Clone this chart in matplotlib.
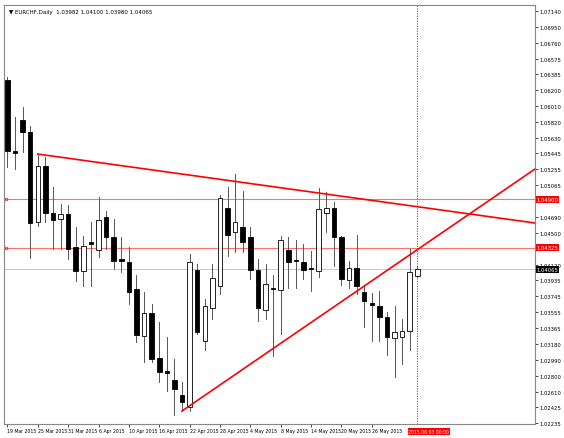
import matplotlib
matplotlib.use("Agg")
import matplotlib.pyplot as plt
from matplotlib.patches import Rectangle

opens = [1.06319,1.05474,1.05843,1.05700,1.04629,1.05296,1.04736,1.04665,1.04725,1.04332,
         1.04047,1.04391,1.04296,1.04689,1.04451,1.04189,1.04153,1.03832,1.03273,1.03547,
         1.03011,1.02856,1.02749,1.02571,1.02428,1.04058,1.03213,1.03606,1.03868,1.04796,
         1.04510,1.04570,1.04451,1.04058,1.03582,1.03844,1.03820,1.04296,1.04177,1.04153,
         1.04082,1.04047,1.04736,1.04796,1.04451,1.03939,1.04082,1.03796,1.03666,1.03630,
         1.03499,1.03249,1.03261,1.03335,1.03982]
highs = [1.06355,1.05879,1.05998,1.05772,1.05438,1.05403,1.05046,1.04844,1.04832,1.04570,
         1.04463,1.04629,1.04927,1.04760,1.04665,1.04451,1.04332,1.03999,1.03796,1.03654,
         1.03439,1.03261,1.02999,1.02725,1.04248,1.04130,1.03713,1.04130,1.04951,1.05046,
         1.05201,1.04998,1.04570,1.04189,1.04130,1.03999,1.04463,1.04451,1.04415,1.04368,
         1.04284,1.05034,1.04986,1.04867,1.04463,1.04165,1.04475,1.03868,1.03784,1.03808,
         1.03558,1.03630,1.03475,1.04308,1.04100]
lows = [1.05284,1.05260,1.05462,1.04201,1.04582,1.04629,1.04308,1.04308,1.04189,1.03927,
        1.03868,1.03868,1.04213,1.04308,1.04070,1.04035,1.03654,1.03201,1.02963,1.02963,
        1.02725,1.02618,1.02333,1.02380,1.02380,1.03298,1.03106,1.03475,1.03773,1.04225,
        1.04272,1.04272,1.03951,1.03451,1.03475,1.03035,1.03298,1.03844,1.03844,1.03951,
        1.03808,1.03975,1.04510,1.04106,1.03880,1.03844,1.03773,1.03380,1.03213,1.03213,
        1.03047,1.02785,1.02940,1.03106,1.03980]
closes = [1.05474,1.05450,1.05700,1.04617,1.05296,1.04736,1.04653,1.04725,1.04308,1.04047,
          1.04344,1.04368,1.04653,1.04451,1.04165,1.04165,1.03796,1.03285,1.03547,1.02999,
          1.02844,1.02832,1.02642,1.02487,1.04153,1.03320,1.03630,1.03963,1.04915,1.04475,
          1.04629,1.04391,1.04058,1.03606,1.03892,1.03832,1.04415,1.04153,1.04165,1.04058,
          1.04070,1.04784,1.04796,1.04451,1.03951,1.04082,1.03868,1.03689,1.03642,1.03499,
          1.03261,1.03320,1.03335,1.04035,1.04065]

date_idx = [0,4,8,12,16,20,24,28,32,36,40,44,48]
date_labels = ["19 Mar 2015","25 Mar 2015","31 Mar 2015","6 Apr 2015","10 Apr 2015",
               "16 Apr 2015","22 Apr 2015","28 Apr 2015","4 May 2015","8 May 2015",
               "14 May 2015","20 May 2015","26 May 2015"]
yticks = [1.07140,1.06950,1.06760,1.06575,1.06385,1.06200,1.06010,1.05820,1.05630,1.05445,
          1.05255,1.05065,1.04690,1.04500,1.04120,1.03935,1.03745,1.03555,1.03365,1.03180,
          1.02990,1.02800,1.02610,1.02425,1.02235]
hlines = [1.04900, 1.04325]
current = 1.04065
trend1 = ([4, 69.5], [1.05438, 1.04617])
trend2 = ([23, 69.5], [1.02380, 1.05260])
vline_idx = 54

fig = plt.figure(figsize=(5.64, 4.39), dpi=100)
ax = fig.add_axes([4/564, 1-425/439, 531/564, 419/439])
ax.set_xlim(-0.45, 69.5)
ax.set_ylim(1.02225, 1.07212)

w = 0.6
for i, (o, h, l, c) in enumerate(zip(opens, highs, lows, closes)):
    ax.plot([i, i], [l, h], color="#555555", lw=0.7, zorder=2)
    bottom = min(o, c)
    height = max(abs(c - o), 0.00004)
    fc = "white" if c >= o else "black"
    ax.add_patch(Rectangle((i - w/2, bottom), w, height, facecolor=fc,
                           edgecolor="black", lw=0.6, zorder=3))

for hv in hlines:
    ax.axhline(hv, color="#ff7070", lw=0.8, zorder=1)
    ax.plot([-0.2], [hv], marker="o", ms=2, mfc="none", mec="red", mew=0.5, clip_on=False)
ax.axhline(current, color="#c8c8c8", lw=0.7, zorder=1)
ax.plot(*trend1, color="red", lw=1.2, zorder=4)
ax.plot(*trend2, color="red", lw=1.2, zorder=4)
ax.axvline(vline_idx, color="red", ls=(0, (1.5, 1.5)), lw=0.6, zorder=1)

ax.yaxis.tick_right()
ax.set_yticks(yticks)
ax.set_yticklabels([f"{v:.5f}" for v in yticks], fontsize=3.8)
ax.set_xticks(date_idx)
ax.set_xticklabels(date_labels, fontsize=3.3, ha="left")
ax.tick_params(axis="both", length=2, width=0.5, pad=1, colors="black")
for s in ax.spines.values():
    s.set_color("#888888")
    s.set_linewidth(0.8)

for hv in hlines:
    ax.text(1.003, hv, f"{hv:.5f}", transform=ax.get_yaxis_transform(), fontsize=3.8,
            color="white", va="center", ha="left",
            bbox=dict(boxstyle="square,pad=0.15", fc="red", ec="none"))
ax.text(1.003, current, f"{current:.5f}", transform=ax.get_yaxis_transform(), fontsize=3.8,
        color="white", va="center", ha="left",
        bbox=dict(boxstyle="square,pad=0.15", fc="black", ec="none"))
ax.text(vline_idx - 1.2, -0.012, "2015.06.03 00:00", transform=ax.get_xaxis_transform(),
        fontsize=3.3, color="white", va="top", ha="left",
        bbox=dict(boxstyle="square,pad=0.15", fc="red", ec="none"))

ax.text(0.01, 0.99, "▼ EURCHF,Daily  1.03982 1.04100 1.03980 1.04065",
        transform=ax.transAxes, fontsize=4, va="top", ha="left")

fig.savefig("out.png", dpi=100)
